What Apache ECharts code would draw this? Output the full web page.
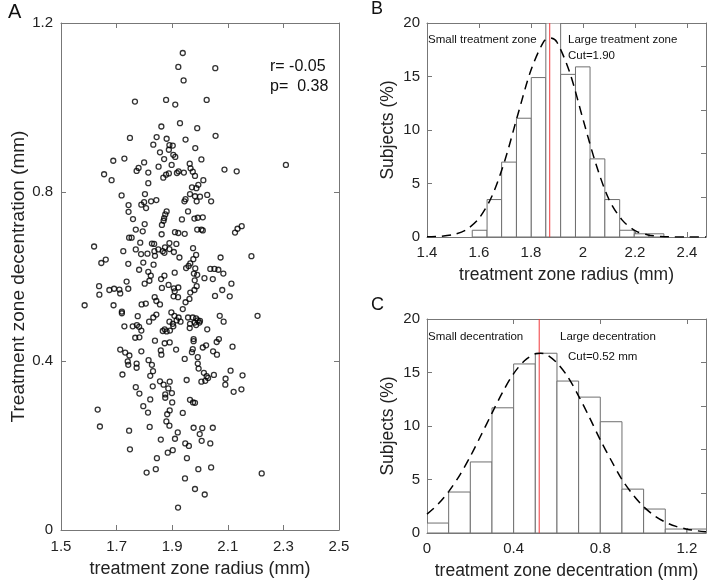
<!DOCTYPE html>
<html><head><meta charset="utf-8">
<script src="https://cdn.jsdelivr.net/npm/echarts@6/dist/echarts.min.js"></script>
<style>html,body{margin:0;padding:0;background:#fff}#c{width:708px;height:583px}</style>
</head><body><div id="c"></div>
<script>
// Panel A: treatment zone radius (mm) vs decentration (mm)
const scatterPoints = [
[1.938,1.129],[1.922,1.096],[2.055,1.093],[1.941,1.064],[1.766,1.014],[1.878,1.018],[1.911,1.007],[2.024,1.018],
[1.928,0.963],[1.861,0.955],[1.990,0.951],[1.748,0.928],[1.844,0.930],[1.880,0.926],[1.948,0.924],[2.056,0.933],
[1.832,0.912],[1.890,0.911],[1.902,0.910],[1.983,0.904],[1.856,0.894],[1.888,0.900],[1.904,0.888],[1.911,0.883],
[1.688,0.874],[1.728,0.879],[1.799,0.870],[1.871,0.878],[2.005,0.877],[1.779,0.857],[1.772,0.850],[1.851,0.860],
[1.898,0.864],[1.963,0.867],[1.966,0.856],[1.655,0.842],[1.814,0.846],[1.868,0.834],[1.878,0.841],[1.888,0.844],
[1.917,0.845],[1.923,0.849],[1.942,0.846],[1.974,0.848],[1.982,0.838],[2.088,0.853],[2.132,0.849],[2.309,0.864],
[1.682,0.828],[1.814,0.821],[2.012,0.828],[1.994,0.817],[1.971,0.811],[1.987,0.809],[1.718,0.792],[1.802,0.795],
[1.964,0.795],[1.982,0.790],[2.000,0.789],[2.026,0.793],[2.040,0.778],[1.988,0.778],[1.944,0.778],[1.948,0.783],
[1.843,0.781],[1.824,0.778],[1.799,0.776],[1.789,0.770],[1.743,0.769],[1.806,0.762],[1.743,0.753],[1.880,0.754],
[1.875,0.747],[1.957,0.754],[1.759,0.736],[1.871,0.738],[1.869,0.732],[1.935,0.735],[1.980,0.737],[1.992,0.739],
[2.010,0.740],[1.801,0.724],[1.863,0.722],[1.794,0.707],[1.769,0.711],[1.990,0.711],[2.005,0.711],[2.010,0.709],
[1.910,0.705],[1.922,0.703],[1.945,0.701],[1.862,0.700],[2.150,0.719],[2.135,0.713],[2.126,0.704],[1.745,0.692],
[1.754,0.692],[1.785,0.680],[1.827,0.678],[1.835,0.677],[1.890,0.679],[1.915,0.677],[1.619,0.671],[1.975,0.667],
[1.724,0.660],[1.769,0.664],[1.788,0.653],[1.811,0.654],[1.836,0.660],[1.838,0.649],[1.850,0.664],[1.866,0.660],
[1.872,0.656],[1.874,0.669],[1.890,0.665],[1.906,0.658],[1.926,0.645],[1.986,0.651],[1.976,0.641],[2.074,0.645],
[2.185,0.648],[1.645,0.632],[1.661,0.640],[1.742,0.630],[1.796,0.633],[1.833,0.628],[1.965,0.631],[1.959,0.625],
[1.781,0.616],[1.814,0.611],[1.823,0.602],[1.909,0.609],[1.950,0.620],[1.983,0.619],[1.978,0.607],[1.990,0.604],
[2.037,0.618],[2.052,0.618],[2.066,0.616],[2.084,0.607],[2.016,0.596],[2.046,0.594],[1.818,0.590],[1.801,0.583],
[1.860,0.594],[1.872,0.602],[1.981,0.591],[1.736,0.588],[1.742,0.571],[1.637,0.577],[1.638,0.557],[1.674,0.568],
[1.691,0.571],[1.710,0.569],[1.713,0.560],[1.863,0.573],[1.887,0.580],[1.906,0.572],[1.922,0.574],[1.909,0.565],
[1.988,0.577],[1.980,0.568],[2.113,0.583],[2.080,0.568],[1.905,0.553],[1.921,0.551],[1.965,0.562],[1.948,0.539],
[1.962,0.547],[2.054,0.554],[2.107,0.553],[1.585,0.532],[1.689,0.532],[1.790,0.534],[1.805,0.536],[1.837,0.551],
[1.843,0.542],[1.856,0.534],[1.938,0.523],[1.719,0.517],[1.719,0.513],[1.897,0.515],[1.908,0.507],[1.923,0.503],
[1.930,0.493],[1.776,0.506],[1.843,0.510],[1.832,0.503],[1.974,0.503],[1.986,0.501],[1.992,0.496],[1.957,0.503],
[2.071,0.507],[2.207,0.507],[1.817,0.493],[1.890,0.493],[1.902,0.488],[1.916,0.496],[1.964,0.488],[1.981,0.491],
[1.998,0.491],[2.000,0.495],[2.085,0.493],[1.728,0.482],[1.758,0.482],[1.773,0.485],[1.781,0.481],[1.789,0.472],
[1.866,0.471],[1.873,0.475],[1.880,0.470],[1.892,0.472],[1.904,0.482],[1.963,0.478],[1.986,0.485],[2.026,0.475],
[1.767,0.455],[1.782,0.456],
[1.838,0.448],[1.873,0.442],[1.891,0.444],[1.977,0.452],[1.977,0.447],[2.022,0.437],[2.010,0.432],[2.060,0.445],
[2.068,0.452],[2.117,0.434],[1.713,0.427],[1.731,0.420],[1.746,0.413],[1.789,0.423],[1.859,0.425],[1.861,0.415],
[1.914,0.427],[1.974,0.428],[1.971,0.421],[2.047,0.423],[2.061,0.415],[1.945,0.405],[1.992,0.409],[1.740,0.399],
[1.742,0.391],[1.772,0.394],[1.772,0.384],[1.815,0.402],[1.827,0.391],[1.831,0.376],[1.821,0.365],[1.721,0.368],
[1.992,0.394],[1.995,0.382],[2.014,0.372],[2.024,0.364],[2.029,0.360],[2.050,0.367],[2.110,0.377],[2.153,0.366],
[1.856,0.352],[1.869,0.344],[1.891,0.351],[1.886,0.335],[1.899,0.324],[1.875,0.321],[1.875,0.313],[1.952,0.355],
[2.005,0.351],[2.019,0.353],[2.092,0.358],[2.091,0.344],[2.121,0.327],[2.149,0.333],[1.769,0.338],[1.782,0.323],
[1.830,0.340],[1.821,0.309],[1.964,0.308],[1.975,0.302],[1.982,0.301],[1.900,0.302],[1.796,0.293],[1.813,0.278],
[1.632,0.285],[1.891,0.283],[1.882,0.274],[1.938,0.277],[1.640,0.245],[1.745,0.235],[1.819,0.244],[1.879,0.257],
[1.890,0.247],[1.920,0.231],[1.977,0.242],[2.008,0.241],[2.046,0.242],[1.999,0.227],[2.006,0.211],[2.037,0.205],
[1.859,0.214],[1.910,0.216],[1.947,0.205],[1.960,0.199],[1.748,0.191],[1.884,0.183],[1.902,0.189],[1.845,0.170],
[1.953,0.170],[1.808,0.136],[1.841,0.144],[1.994,0.144],[2.040,0.148],[2.222,0.134],[1.946,0.122],[1.982,0.097],
[2.017,0.084],[1.921,0.053]
];
const statR = 'r= -0.05';
const statP = 'p=  0.38';

// Panel B: histogram of treatment zone radius
const binEdgesB = [1.574,1.631,1.687,1.744,1.801,1.857,1.914,1.971,2.027,2.084,2.141,2.197,2.254,2.311];
const pctB = [0.63,3.5,7.0,11.1,14.9,20.0,15.2,15.9,7.3,3.5,0.63,0.3,0.3];
const curveBx = [1.40,1.45,1.50,1.55,1.60,1.65,1.70,1.75,1.80,1.85,1.875,1.90,1.95,2.00,2.05,2.10,2.15,2.20,2.25,2.30,2.35,2.40,2.473];
const curveBy = [0.02,0.06,0.22,0.67,1.74,3.83,7.2,11.5,15.6,18.3,18.6,18.2,15.3,11.0,6.8,3.5,1.6,0.6,0.19,0.05,0.01,0,0];
const cutB = 1.872;
const textsB = ['Small treatment zone','Large treatment zone','Cut=1.90'];

// Panel C: histogram of decentration
const binEdgesC = [0,0.1,0.2,0.3,0.4,0.5,0.6,0.7,0.8,0.9,1.0,1.1,1.2,1.3];
const pctC = [0.93,3.83,6.64,11.7,15.8,16.8,14.2,12.7,10.4,4.1,2.24,0.37,0.37];
const curveCx = [0,0.05,0.10,0.15,0.20,0.25,0.30,0.35,0.40,0.45,0.50,0.525,0.55,0.60,0.65,0.70,0.75,0.80,0.85,0.90,0.95,1.00,1.05,1.10,1.15,1.20,1.25,1.288];
const curveCy = [1.77,2.67,3.87,5.37,7.16,9.16,11.2,13.2,14.9,16.1,16.75,16.8,16.7,15.9,14.6,12.8,10.8,8.7,6.8,5.0,3.6,2.46,1.62,1.02,0.62,0.36,0.2,0.12];
const cutC = 0.518;
const textsC = ['Small decentration','Large decentration','Cut=0.52 mm'];

const FONT = '"Liberation Sans", Arial, Helvetica, sans-serif';
const AX = '#777';
const TXT = '#222';
const fmt = v => String(+(+v).toFixed(2));

function baseAxis(extra){
  return Object.assign({
    type:'value',
    axisLine:{show:true,onZero:false,lineStyle:{color:AX,width:1}},
    axisTick:{show:true,inside:true,length:5,lineStyle:{color:AX,width:1}},
    splitLine:{show:false},
    axisLabel:{show:true,color:TXT,fontSize:15,fontFamily:FONT,formatter:fmt},
    nameTextStyle:{color:TXT,fontFamily:FONT}
  }, extra);
}
function mirror(src, pos){
  return baseAxis({gridIndex:src.gridIndex,min:src.min,max:src.max,interval:src.interval,position:pos,
    axisLabel:{show:false}});
}

const xA = baseAxis({gridIndex:0,min:1.5,max:2.5,interval:0.2,position:'bottom',
  name:'treatment zone radius (mm)',nameLocation:'middle',nameGap:30,
  nameTextStyle:{color:TXT,fontFamily:FONT,fontSize:18}});
xA.axisLabel.margin = 9;
const yA = baseAxis({gridIndex:0,min:0,max:1.2,interval:0.4,position:'left',
  name:'Treatment zone decentration (mm)',nameLocation:'middle',nameGap:28,
  nameTextStyle:{color:TXT,fontFamily:FONT,fontSize:19}});
yA.axisLabel.margin = 8;

const xB = baseAxis({gridIndex:1,min:1.4,max:2.473,interval:0.2,position:'bottom',
  name:'treatment zone radius (mm)',nameLocation:'middle',nameGap:29,
  nameTextStyle:{color:TXT,fontFamily:FONT,fontSize:17.5}});
xB.axisLabel.margin = 8;
const yB = baseAxis({gridIndex:1,min:0,max:20,interval:5,position:'left',
  name:'Subjects (%)',nameLocation:'middle',nameGap:30,
  nameTextStyle:{color:TXT,fontFamily:FONT,fontSize:17.5}});
yB.axisLabel.margin = 7;

const xC = baseAxis({gridIndex:2,min:0,max:1.288,interval:0.4,position:'bottom',
  name:'treatment zone decentration (mm)',nameLocation:'middle',nameGap:29,
  nameTextStyle:{color:TXT,fontFamily:FONT,fontSize:17.5}});
xC.axisLabel.margin = 8;
const yC = baseAxis({gridIndex:2,min:0,max:20,interval:5,position:'left',
  name:'Subjects (%)',nameLocation:'middle',nameGap:30,
  nameTextStyle:{color:TXT,fontFamily:FONT,fontSize:17.5}});
yC.axisLabel.margin = 7;

const rightTickVals = [0.188,0.391,0.593,0.796];
function rightAxis(g){
  return baseAxis({gridIndex:g,min:0,max:1,position:'right',
    axisTick:{show:true,inside:true,length:5,lineStyle:{color:AX,width:1},customValues:rightTickVals},
    axisLabel:{show:false,customValues:rightTickVals}});
}

function renderBar(params, api){
  const p0 = api.coord([api.value(0), api.value(2)]);
  const p1 = api.coord([api.value(1), 0]);
  return {type:'rect', shape:{x:p0[0], y:p0[1], width:p1[0]-p0[0], height:p1[1]-p0[1]},
    style:{fill:'#fff', stroke:'#6f6f6f', lineWidth:1}};
}
const barsB = pctB.map((h,i)=>[binEdgesB[i], binEdgesB[i+1], h]);
const barsC = pctC.map((h,i)=>[binEdgesC[i], binEdgesC[i+1], h]);

function txt(x,y,s,size,extra){
  return Object.assign({type:'text',x:x,y:y,style:{text:s,fill:'#111',font:size+'px '+FONT,textVerticalAlign:'middle',textAlign:'left'}}, extra||{});
}

const option = {
  animation:false,
  backgroundColor:'#fff',
  grid:[
    {left:61, top:23, width:278, height:510},
    {left:427, top:23, width:279, height:214},
    {left:427, top:319, width:279, height:214}
  ],
  xAxis:[xA, mirror(xA,'top'), xB, mirror(xB,'top'), xC, mirror(xC,'top')],
  yAxis:[yA, mirror(yA,'right'), yB, rightAxis(1), yC, rightAxis(2)],
  series:[
    {type:'scatter',xAxisIndex:0,yAxisIndex:0,data:scatterPoints,symbol:'circle',symbolSize:5,
      itemStyle:{color:'rgba(0,0,0,0)',borderColor:'#000',borderWidth:1.3}},
    {type:'custom',xAxisIndex:2,yAxisIndex:2,data:barsB,renderItem:renderBar,clip:true,encode:{x:[0,1],y:2}},
    {type:'line',xAxisIndex:2,yAxisIndex:2,data:[[cutB,0],[cutB,20]],symbol:'none',
      lineStyle:{color:'#f0393c',width:1},z:3},
    {type:'line',xAxisIndex:2,yAxisIndex:2,data:curveBx.map((x,i)=>[x,curveBy[i]]),symbol:'none',smooth:0.3,
      lineStyle:{color:'#000',width:1.5,type:[9,6]},z:4},
    {type:'custom',xAxisIndex:4,yAxisIndex:4,data:barsC,renderItem:renderBar,clip:true,encode:{x:[0,1],y:2}},
    {type:'line',xAxisIndex:4,yAxisIndex:4,data:[[cutC,0],[cutC,20]],symbol:'none',
      lineStyle:{color:'#f0393c',width:1},z:3},
    {type:'line',xAxisIndex:4,yAxisIndex:4,data:curveCx.map((x,i)=>[x,curveCy[i]]),symbol:'none',smooth:0.3,
      lineStyle:{color:'#000',width:1.5,type:[9,6]},z:4}
  ],
  graphic:[
    txt(8,12,'A',20),
    txt(371,9,'B',18),
    txt(371,305,'C',18),
    txt(270,67,statR,16),
    txt(270,87,statP,16),
    txt(428,40,textsB[0],11.5),
    txt(568,40,textsB[1],11.5),
    txt(568,56,textsB[2],11.5),
    txt(428,337,textsC[0],11.5),
    txt(560,337,textsC[1],11.5),
    txt(568,357,textsC[2],11.5)
  ]
};
const chart = echarts.init(document.getElementById('c'), null, {renderer:'canvas'});
chart.setOption(option);
</script>
</body></html>
